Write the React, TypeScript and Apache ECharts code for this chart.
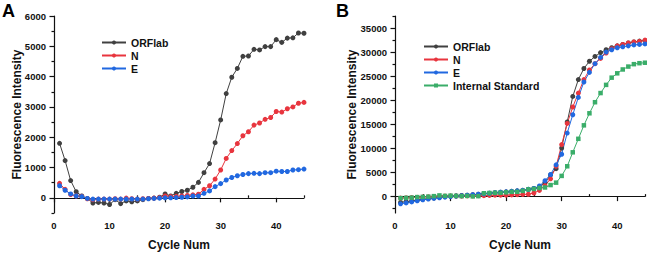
import React, { useEffect, useRef } from "react";
import * as echarts from "echarts";

const cycles = [1,2,3,4,5,6,7,8,9,10,11,12,13,14,15,16,17,18,19,20,21,22,23,24,25,26,27,28,29,30,31,32,33,34,35,36,37,38,39,40,41,42,43,44,45];

// Panel A
const orfA = [1800,1230,570,200,60,-20,-170,-150,-170,-220,-60,-190,-100,-130,-100,-60,-20,-10,20,130,60,150,210,250,350,510,830,1130,1820,2570,3440,3980,4270,4670,4680,4900,4880,4990,4990,5220,5130,5270,5280,5440,5430];
const nA = [480,280,110,60,50,-30,-60,-40,-40,-40,-30,-40,-10,-30,-40,-30,-20,-10,10,60,40,50,60,80,100,120,280,400,620,920,1300,1560,1790,2050,2180,2400,2470,2590,2650,2850,2830,2940,3000,3120,3150];
const eA = [400,250,130,60,40,-20,-40,-40,-40,-40,-40,-40,-40,-40,-40,-40,-30,-20,-10,0,0,10,20,30,60,60,150,230,370,470,590,670,730,770,800,810,800,830,830,880,870,870,920,930,950];

// Panel B
const orfB = [-1200,-1050,-900,-700,-550,-400,-300,-150,0,100,150,250,300,400,500,600,700,800,900,1000,1100,1200,1300,1500,1700,2100,2900,4500,5800,10100,15500,20800,24300,26600,28100,29100,29900,30500,30900,31300,31600,31900,32100,32300,32400];
const nB = [-300,-250,-200,-150,-100,-50,0,50,100,100,100,100,150,150,200,200,250,300,300,300,350,400,450,500,750,1300,2300,3700,6300,10800,15200,18600,21500,24300,26300,27600,28700,29800,30700,31300,31600,31900,32100,32200,32500];
const eB = [-1500,-1300,-1100,-850,-650,-500,-350,-250,-100,0,100,200,300,400,500,600,700,800,900,1000,1100,1200,1300,1500,1700,2200,3300,4600,6600,8800,13200,17000,20600,23800,25800,27600,28900,30000,30500,30900,31100,31300,31500,31600,31700];
const isB = [-300,-250,-200,-100,-50,0,100,250,150,200,150,100,150,50,100,700,750,800,800,900,1000,1000,1200,1500,1600,1800,1900,2400,2900,4300,6300,9200,12000,14800,17300,19600,21500,23200,24700,25600,26400,27000,27500,27700,27800];

const xLabels = [0, 10, 20, 30, 40];
const xMinor = [5, 15, 25, 35, 45];
const yLabelsA = [0, 1000, 2000, 3000, 4000, 5000, 6000];
const yMinorA = [-500, 500, 1500, 2500, 3500, 4500, 5500];
const yLabelsB = [0, 5000, 10000, 15000, 20000, 25000, 30000, 35000];
const yMinorB = [-2500, 2500, 7500, 12500, 17500, 22500, 27500, 32500, 37500];

const legendA = ["ORFlab", "N", "E"];
const legendB = ["ORFlab", "N", "E", "Internal Standard"];

const COLORS: Record<string, string> = {
  ORFlab: "#404040",
  N: "#e8353e",
  E: "#2168e0",
  "Internal Standard": "#3aad69",
};

const FONT = "'Liberation Sans', Arial, sans-serif";

function pairs(vals: number[]) {
  return cycles.map((c, i) => [c, vals[i]]);
}

export default function App() {
  const ref = useRef<HTMLDivElement>(null);
  useEffect(() => {
    if (!ref.current) return;
    const chart = echarts.init(ref.current, undefined, { renderer: "svg" });

    const grids = [
      { left: 54, top: 16, width: 250, height: 201 },
      { left: 395, top: 16, width: 250, height: 202 },
    ];

    const labelStyle = { fontFamily: FONT, fontWeight: "bold" as const, fontSize: 9.5, color: "#111" };
    const nameStyle = { fontFamily: FONT, fontWeight: "bold" as const, fontSize: 12, color: "#111" };
    const lineStyle = { color: "#111", width: 1.2 };
    const fmt = (v: number) => String(v);

    const mainX = (gi: number) => ({
      type: "value",
      gridIndex: gi,
      min: 0,
      max: 45,
      name: "Cycle Num",
      nameLocation: "middle",
      nameGap: 26,
      nameMoveOverlap: false,
      nameTextStyle: nameStyle,
      axisLine: { show: true, lineStyle },
      axisTick: { show: true, inside: false, length: 4.5, lineStyle, customValues: xLabels },
      axisLabel: { show: true, margin: 7, ...labelStyle, formatter: fmt, customValues: xLabels },
      splitLine: { show: false },
    });
    const minorX = (gi: number) => ({
      type: "value",
      gridIndex: gi,
      min: 0,
      max: 45,
      axisLine: { show: false },
      axisTick: { show: true, length: 2.5, lineStyle, customValues: xMinor },
      axisLabel: { show: false },
      splitLine: { show: false },
    });
    const mainY = (gi: number, min: number, max: number, labels: number[], gap: number) => ({
      type: "value",
      gridIndex: gi,
      min,
      max,
      name: "Fluorescence Intensity",
      nameLocation: "middle",
      nameGap: gap,
      nameMoveOverlap: false,
      nameTextStyle: nameStyle,
      axisLine: { show: true, lineStyle },
      axisTick: { show: true, inside: false, length: 4.5, lineStyle, customValues: labels },
      axisLabel: { show: true, margin: 8, ...labelStyle, formatter: fmt, customValues: labels },
      splitLine: { show: false },
    });
    const minorY = (gi: number, min: number, max: number, ticks: number[]) => ({
      type: "value",
      gridIndex: gi,
      min,
      max,
      position: "left",
      axisLine: { show: false },
      axisTick: { show: true, length: 2.5, lineStyle, customValues: ticks },
      axisLabel: { show: false },
      splitLine: { show: false },
    });

    const mk = (name: string, vals: number[], xi: number, yi: number, symbol = "circle") => ({
      type: "line",
      name,
      xAxisIndex: xi,
      yAxisIndex: yi,
      data: pairs(vals),
      symbol,
      symbolSize: symbol === "rect" ? 4.5 : 5,
      showSymbol: true,
      itemStyle: { color: COLORS[name] },
      lineStyle: { color: COLORS[name], width: 1 },
      emphasis: { disabled: true },
    });

    const legendBase = {
      orient: "vertical",
      padding: 0,
      itemWidth: 24,
      itemHeight: 5,
      itemGap: 2,
      selectedMode: false,
      textStyle: { fontFamily: FONT, fontWeight: "bold", fontSize: 10.5, color: "#111" },
    };

    chart.setOption({
      animation: false,
      backgroundColor: "#fff",
      grid: grids,
      xAxis: [mainX(0), minorX(0), mainX(1), minorX(1)],
      yAxis: [
        mainY(0, -500, 6000, yLabelsA, 31),
        minorY(0, -500, 6000, yMinorA),
        mainY(1, -3400, 37500, yLabelsB, 37),
        minorY(1, -3400, 37500, yMinorB),
      ],
      legend: [
        { ...legendBase, left: 101, top: 37, data: legendA },
        { ...legendBase, left: 423, top: 41, data: legendB },
      ],
      series: [
        mk("ORFlab", orfA, 0, 0),
        mk("N", nA, 0, 0),
        mk("E", eA, 0, 0),
        mk("ORFlab", orfB, 2, 2),
        mk("N", nB, 2, 2),
        mk("E", eB, 2, 2),
        mk("Internal Standard", isB, 2, 2, "rect"),
      ],
      graphic: [
        { type: "text", left: 2, top: 2, style: { text: "A", fontFamily: FONT, fontWeight: "bold", fontSize: 18, fill: "#000" } },
        { type: "text", left: 336, top: 2, style: { text: "B", fontFamily: FONT, fontWeight: "bold", fontSize: 18, fill: "#000" } },
      ],
    });
    return () => chart.dispose();
  }, []);
  return (
    <div
      ref={ref}
      style={{ position: "fixed", left: 0, top: 0, width: 647, height: 256, background: "#fff" }}
    />
  );
}
